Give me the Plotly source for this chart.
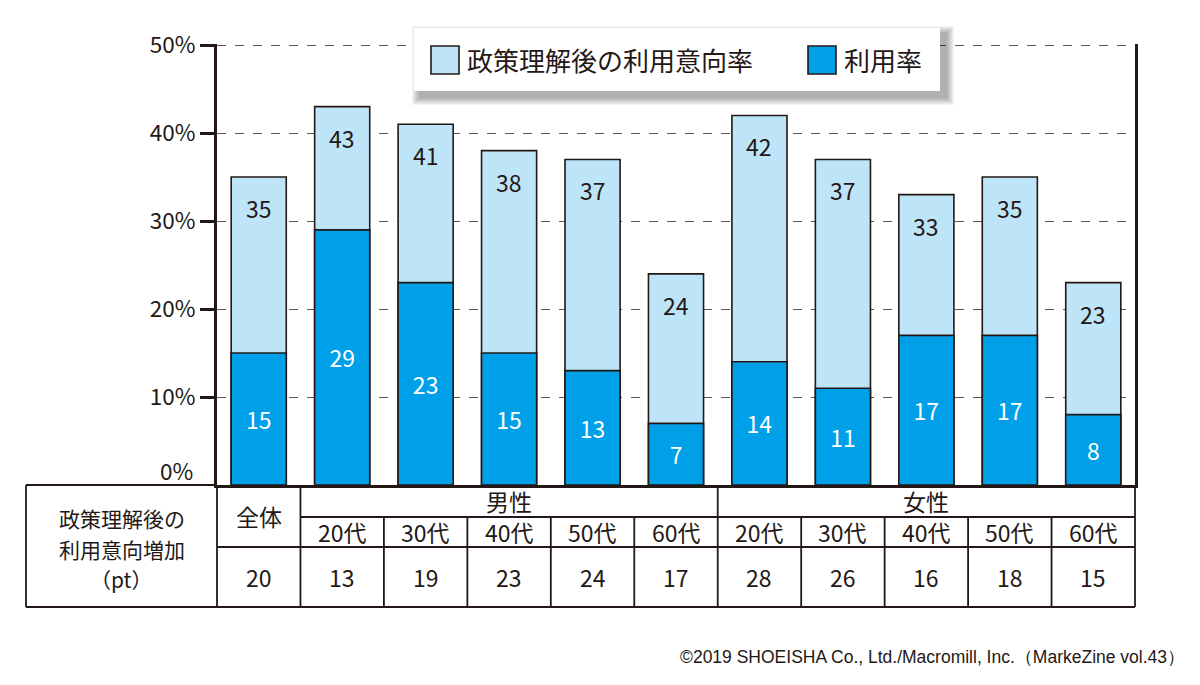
import plotly.graph_objects as go

# ---- data ----
categories = ["全体", "男性20代", "男性30代", "男性40代", "男性50代", "男性60代",
              "女性20代", "女性30代", "女性40代", "女性50代", "女性60代"]
intent = [35, 43, 41, 38, 37, 24, 42, 37, 33, 35, 23]      # 政策理解後の利用意向率 (%)
usage = [15, 29, 23, 15, 13, 7, 14, 11, 17, 17, 8]          # 利用率 (%)
increase = [20, 13, 19, 23, 24, 17, 28, 26, 16, 18, 15]     # 利用意向増加 (pt)
age_labels = ["20代", "30代", "40代", "50代", "60代"]
group_labels = ["全体", "男性", "女性"]
row_label_lines = ["政策理解後の", "利用意向増加", "（pt）"]
tick_vals = [10, 20, 30, 40, 50]
tick_text = ["10%", "20%", "30%", "40%", "50%"]
legend_names = ["政策理解後の利用意向率", "利用率"]

# ---- style ----
FONT = "Noto Sans CJK JP"
INK = "#231815"
LIGHT = "#BEE4F8"
DARK = "#00A0E9"
OFF = 8  # default page body margin
W, H = 1200 - OFF, 685 - OFF
# plot area in page pixels: x 217..1135, y 44..485
L, T = 217 - OFF, 44 - OFF
R = W - (1135 - OFF)
B = H - (485 - OFF)
PW, PH = W - L - R, H - T - B
N = len(categories)


def px_x(p):
    """page pixel x -> paper"""
    return (p - 217) / PW


def px_y(p):
    """page pixel y -> paper"""
    return (485 - p) / PH


fig = go.Figure()
fig.add_trace(go.Bar(
    x=categories, y=intent, name=legend_names[0], width=0.66,
    marker=dict(color=LIGHT, line=dict(color=INK, width=1.6)),
    showlegend=False, hoverinfo="skip"))
fig.add_trace(go.Bar(
    x=categories, y=usage, name=legend_names[1], width=0.66,
    marker=dict(color=DARK, line=dict(color=INK, width=1.6)),
    text=[str(v) for v in usage], textposition="inside",
    insidetextanchor="middle", textangle=0,
    textfont=dict(family=FONT, size=23, color="white"),
    showlegend=False, hoverinfo="skip"))

annotations = []
# labels near top of light bars
for c, v in zip(categories, intent):
    annotations.append(dict(x=c, y=v, xref="x", yref="y", text=str(v),
                            showarrow=False, yshift=-31, xanchor="center", yanchor="middle",
                            font=dict(family=FONT, size=23, color=INK)))
# 0% label
annotations.append(dict(x=-0.5, y=0, xref="x", yref="y", text="0%", showarrow=False,
                        xanchor="right", yanchor="middle", xshift=-22, yshift=15,
                        font=dict(family=FONT, size=22.5, color=INK)))

shapes = []
# ---- table ----
y_top, y_r1, y_r2, y_bot = px_y(485), px_y(517), px_y(547), px_y(607)
x_left = px_x(26)


def line(x0, y0, x1, y1, w=1.8):
    shapes.append(dict(type="line", xref="paper", yref="paper", x0=x0, y0=y0,
                       x1=x1, y1=y1, line=dict(color=INK, width=w), layer="above"))


line(x_left, y_top, 0, y_top)
line(x_left, y_bot, 1, y_bot)
line(1 / N, y_r1, 1, y_r1)
line(0, y_r2, 1, y_r2)
line(x_left, y_top, x_left, y_bot)
for k in range(N + 1):
    if k in (0, 1, 6, N):
        line(k / N, y_top, k / N, y_bot)
    else:
        line(k / N, y_r1, k / N, y_bot)

tfont = dict(family=FONT, size=23, color=INK)


def cell(x, y, text, **kw):
    d = dict(x=x, y=y, xref="paper", yref="paper", text=text, showarrow=False,
             xanchor="center", yanchor="middle", font=tfont)
    d.update(kw)
    annotations.append(d)


for j, t in enumerate(row_label_lines):
    cell((x_left + 0) / 2, px_y(518 + 30.5 * j), t,
         font=dict(family=FONT, size=21, color=INK))
cell(0.5 / N, (y_top + y_r2) / 2, group_labels[0])
cell(3.5 / N, (y_top + y_r1) / 2, group_labels[1])
cell(8.5 / N, (y_top + y_r1) / 2, group_labels[2])
for k in range(1, N):
    cell((k + 0.5) / N, (y_r1 + y_r2) / 2, age_labels[(k - 1) % 5])
for k, v in enumerate(increase):
    cell((k + 0.5) / N, (y_r2 + y_bot) / 2, str(v))

# ---- custom legend with soft shadow ----
bx0, bx1, by0, by1 = 414, 940, 28, 91
for i in range(8, 0, -1):
    off = 6
    shapes.append(dict(type="rect", xref="paper", yref="paper",
                       x0=px_x(bx0 + off - i), x1=px_x(bx1 + off + i),
                       y0=px_y(by1 + off + i), y1=px_y(by0 + off - i),
                       fillcolor="rgba(0,0,0,0.045)", line=dict(width=0), layer="above"))
shapes.append(dict(type="rect", xref="paper", yref="paper",
                   x0=px_x(bx0), x1=px_x(bx1), y0=px_y(by1), y1=px_y(by0),
                   fillcolor="white", line=dict(width=0), layer="above"))
for (sx0, sx1, col, tx, name) in [(431, 459, LIGHT, 465, legend_names[0]),
                                   (808, 836, DARK, 842, legend_names[1])]:
    shapes.append(dict(type="rect", xref="paper", yref="paper",
                       x0=px_x(sx0), x1=px_x(sx1), y0=px_y(74), y1=px_y(46),
                       fillcolor=col, line=dict(color=INK, width=1.6), layer="above"))
    annotations.append(dict(x=px_x(tx), y=px_y(60), xref="paper", yref="paper",
                            text=name, showarrow=False, xanchor="left", yanchor="middle",
                            font=dict(family=FONT, size=26, color=INK)))

# copyright
annotations.append(dict(x=px_x(1187), y=px_y(657), xref="paper", yref="paper",
                        text="©2019 SHOEISHA Co., Ltd./Macromill, Inc.（MarkeZine vol.43）",
                        showarrow=False, xanchor="right", yanchor="middle",
                        font=dict(family="Liberation Sans", size=17.5, color=INK)))

fig.update_layout(
    width=W, height=H, margin=dict(l=L, r=R, t=T, b=B, pad=0),
    paper_bgcolor="white", plot_bgcolor="white",
    barmode="overlay", showlegend=False,
    shapes=shapes, annotations=annotations,
    xaxis=dict(type="category", range=[-0.5, N - 0.5], showticklabels=False,
               showgrid=False, showline=True, linecolor=INK, linewidth=3,
               ticks="", zeroline=False, fixedrange=True),
    yaxis=dict(range=[0, 50.12], tickvals=tick_vals, ticktext=tick_text,
               showgrid=True, gridcolor="#555555", gridwidth=1, griddash="dash",
               showline=True, mirror=True, linecolor=INK, linewidth=3,
               ticks="outside", ticklen=14, tickwidth=3, tickcolor=INK,
               tickfont=dict(family=FONT, size=22.5, color=INK),
               zeroline=False, fixedrange=True),
)

fig.write_html("out.html")
